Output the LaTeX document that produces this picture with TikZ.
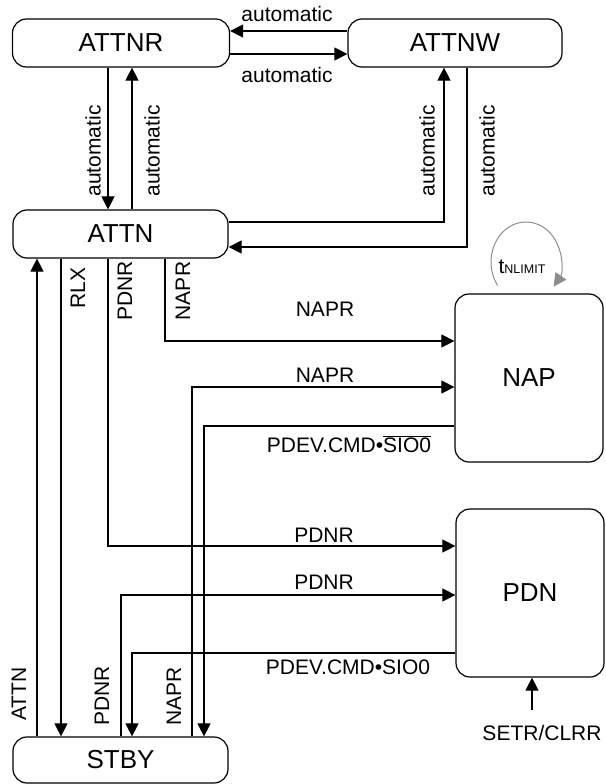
\documentclass[tikz,border=0pt]{standalone}
\usepackage{fontspec}
\setmainfont{Liberation Sans}
\usetikzlibrary{arrows.meta,calc}
\begin{document}
\begin{tikzpicture}[x=1pt,y=-1pt,
  state/.style={draw,rounded corners=14pt,line width=1.2pt,inner sep=0pt,font=\fontsize{26}{30}\selectfont},
  wide/.style={minimum width=216pt,minimum height=48pt},
  big/.style={minimum width=148pt,minimum height=168pt},
  conn/.style={line width=1.1pt,-{Triangle[length=13pt,width=13pt]}},
  lbl/.style={font=\fontsize{21}{24}\selectfont,inner sep=0pt},
  loopc/.style={line width=1pt,draw=black!45,-{Triangle[length=13pt,width=13pt,fill=black!45]}},
]
\useasboundingbox (0,0) rectangle (605,784);
% states
\node[state,wide,minimum width=217pt] (ATTNR) at (121,43) {ATTNR};
\node[state,wide,minimum width=214pt] (ATTNW) at (455,43) {ATTNW};
\node[state,wide,minimum width=215pt] (ATTN) at (120.5,234) {ATTN};
\node[state,wide,minimum width=215pt,minimum height=46pt] (STBY) at (120.5,760) {STBY};
\node[state,big] (NAP) at (529,378) {NAP};
\node[state,big] (PDN) at (530,593) {PDN};
% helper coordinates
\coordinate (ya) at (0,31);
\coordinate (yb) at (0,54);
\coordinate (xa) at (108,0);
\coordinate (xb) at (132,0);
\coordinate (c5) at (444,222);
\coordinate (c6) at (467,247);
\coordinate (x7) at (37,0);
\coordinate (x8) at (61,0);
\coordinate (c9) at (108,546);
\coordinate (c10) at (165,341);
\coordinate (c11) at (192,387);
\coordinate (c12) at (204,426);
\coordinate (c13) at (121,595);
\coordinate (c14) at (132,653);
\coordinate (sc) at (532,710);
\coordinate (lpa) at (497.7,285.5);
% top connectors
\draw[conn] (ATTNW.west |- ya) -- (ATTNR.east |- ya);
\draw[conn] (ATTNR.east |- yb) -- (ATTNW.west |- yb);
\node[lbl] (la) at (287,14) {automatic};
\node[lbl] (lb) at (287,75) {automatic};
\draw[conn] (ATTNR.south -| xa) -- (ATTN.north -| xa);
\draw[conn] (ATTN.north -| xb) -- (ATTNR.south -| xb);
\node[lbl,rotate=90] (l3) at (93,151) {automatic};
\node[lbl,rotate=90] (l4) at (152,151) {automatic};
\draw[conn] (ATTN.east |- c5) -- (c5) -- (ATTNW.south -| c5);
\draw[conn] (ATTNW.south -| c6) -- (c6) -- (ATTN.east |- c6);
\node[lbl,rotate=90] (l5) at (427,151) {automatic};
\node[lbl,rotate=90] (l6) at (487,151) {automatic};
% ATTN <-> STBY
\draw[conn] (STBY.north -| x7) -- (ATTN.south -| x7);
\node[lbl,rotate=90] (l7) at (19,694) {ATTN};
\draw[conn] (ATTN.south -| x8) -- (STBY.north -| x8);
\node[lbl,rotate=90] (l8) at (78,288) {RLX};
% ATTN -> PDN, ATTN -> NAP
\draw[conn] (ATTN.south -| c9) -- (c9) -- (PDN.west |- c9);
\node[lbl,rotate=90] (l9) at (125,291) {PDNR};
\node[lbl] (l9b) at (324,535) {PDNR};
\draw[conn] (ATTN.south -| c10) -- (c10) -- (NAP.west |- c10);
\node[lbl,rotate=90] (l10) at (183,291) {NAPR};
\node[lbl] (l10b) at (325,309) {NAPR};
% STBY <-> NAP
\draw[conn] (STBY.north -| c11) -- (c11) -- (NAP.west |- c11);
\node[lbl] (l11) at (325,375) {NAPR};
\node[lbl,rotate=90] (l11b) at (174,696) {NAPR};
\draw[conn] (NAP.west |- c12) -- (c12) -- (STBY.north -| c12);
\node[lbl] (l12) at (349,444) {PDEV.CMD•$\overline{\hbox{SIO0}}$};
% STBY <-> PDN
\draw[conn] (STBY.north -| c13) -- (c13) -- (PDN.west |- c13);
\node[lbl] (l13) at (324,582) {PDNR};
\node[lbl,rotate=90] (l13b) at (102,696) {PDNR};
\draw[conn] (PDN.west |- c14) -- (c14) -- (STBY.north -| c14);
\node[lbl] (l14) at (348,667) {PDEV.CMD•SIO0};
% SETR/CLRR
\draw[conn] (sc) -- (PDN.south -| sc);
\node[lbl] (l15) at (542,733) {SETR/CLRR};
% NAP self loop
\draw[loopc] (lpa) arc[start angle=144, end angle=398, x radius=35, y radius=40];
\node[lbl] (l16) at (522,267) {t{\fontsize{12.5}{15}\selectfont NLIMIT}};
\end{tikzpicture}
\end{document}
